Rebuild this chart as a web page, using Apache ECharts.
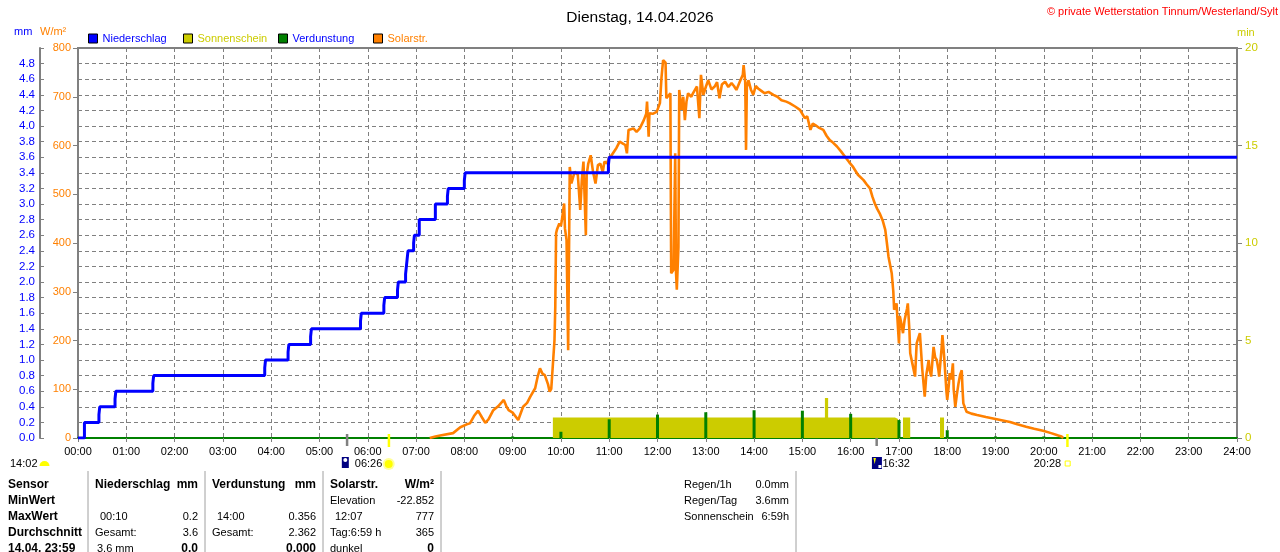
<!DOCTYPE html>
<html>
<head>
<meta charset="utf-8">
<script src="https://cdn.jsdelivr.net/npm/echarts@6/dist/echarts.min.js"></script>
<style>
html,body{margin:0;padding:0;background:#fff;}
#chart{width:1280px;height:552px;}
</style>
</head>
<body>
<div id="chart"></div>
<script>
// ---------- DATA ----------
const hourLabels = ['00:00','01:00','02:00','03:00','04:00','05:00','06:00','07:00','08:00','09:00','10:00','11:00','12:00','13:00','14:00','15:00','16:00','17:00','18:00','19:00','20:00','21:00','22:00','23:00','24:00'];

// Niederschlag (cumulative mm), time in minutes since midnight
const rainT = [0, 8, 26, 27, 46, 47, 93, 94, 232, 233, 261, 262, 289, 290, 351, 352, 380, 381, 397, 398, 407, 408, 409, 410, 417, 418, 424, 444, 459, 460, 480, 481, 659, 660, 1440];
const rainV = [0, 0.2, 0.3, 0.4, 0.5, 0.6, 0.7, 0.8, 0.9, 1.0, 1.1, 1.2, 1.3, 1.4, 1.5, 1.6, 1.7, 1.8, 1.9, 2.0, 2.1, 2.2, 2.3, 2.4, 2.5, 2.6, 2.8, 3.0, 3.1, 3.2, 3.3, 3.4, 3.5, 3.6, 3.6];

// Sonnenschein (min), step values starting at each time
const sunT = [0, 590, 928, 932, 1015, 1019, 1025, 1034, 1071, 1076, 1440];
const sunV = [0, 1.05, 2.05, 1.05, 0.97, 0, 1.05, 0, 1.05, 0, 0];

// Verdunstung (mm per hour)
const evapT = [540, 600, 660, 720, 780, 840, 900, 960, 1020, 1080, 1140, 1200];
const evapV = [0.02, 0.08, 0.24, 0.30, 0.33, 0.356, 0.35, 0.31, 0.23, 0.10, 0.02, 0.02];

// Solarstrahlung (W/m²)
const solarT = [437,444,450,466,475,483,487,492,497,502,506,510,516,522,529,532,535,540,547,553,558,562,568,571,574,577,580,584,586,588,590,592,593,594,595,598,600,601,604,605,607,609,611,613,617,621,624,626,628,631,632,634,637,640,643,646,649,652,654,657,660,663,665,669,673,677,680,682,684,690,694,698,703,706,707,709,710,714,719,723,725,727,728,730,731,733,736,737,740,742,743,744,746,747,750,752,754,756,758,762,764,769,772,774,777,780,783,787,791,794,797,800,804,808,812,815,818,823,826,827,829,830,831,833,836,839,842,845,849,853,858,864,869,874,880,884,891,897,903,906,910,913,916,921,926,930,934,938,943,948,953,958,963,969,976,980,984,987,990,993,996,1000,1003,1005,1007,1009,1011,1013,1014,1017,1019,1020,1021,1023,1025,1027,1030,1031,1033,1034,1037,1040,1042,1044,1046,1049,1052,1054,1057,1058,1060,1063,1065,1067,1069,1070,1073,1074,1076,1077,1079,1080,1082,1083,1085,1087,1088,1090,1092,1094,1096,1098,1099,1100,1104,1110,1117,1128,1137,1146,1158,1167,1178,1188,1199,1209,1218,1222,1224];
const solarV = [0,3,5,10,22,28,30,45,56,42,31,38,57,65,78,66,57,52,37,64,72,85,102,125,143,132,129,110,95,101,105,200,269,420,427,440,435,445,481,430,406,180,556,522,546,540,468,530,567,416,540,563,580,545,522,560,563,545,567,563,575,580,584,595,608,604,601,584,632,635,628,635,652,665,690,618,666,665,669,687,740,775,777,770,697,700,707,338,345,584,340,304,392,714,673,700,652,690,707,700,707,721,656,745,704,720,734,715,721,730,697,725,731,720,728,722,714,734,745,765,730,591,720,734,715,704,722,717,712,707,710,704,700,693,690,687,680,673,656,660,632,645,642,636,632,620,611,606,598,588,577,566,556,540,529,520,512,495,481,470,461,445,427,400,372,355,338,300,263,276,220,194,250,235,215,242,265,276,220,174,150,126,194,205,215,140,85,130,160,140,126,187,165,160,140,126,185,211,170,146,95,78,110,133,120,153,100,64,90,112,130,139,100,71,54,50,47,43,40,37,33,28,23,19,15,10,5,3,0];

// Sun / moon event markers on the time axis (minutes)
const eventT = [334, 386, 992, 1229];
const eventColor = ['#808080', '#ffff00', '#808080', '#ffff00'];

// Legend entries
const legendNames = ['Niederschlag', 'Sonnenschein', 'Verdunstung', 'Solarstr.'];
const legendTextColors = ['#0000ff', '#cccc00', '#0000ff', '#ff8000'];

// Table texts
const sensorCol = ['Sensor', 'MinWert', 'MaxWert', 'Durchschnitt', '14.04. 23:59'];
const rainCol = [['Niederschlag', 'mm'], ['', ''], ['00:10', '0.2'], ['Gesamt:', '3.6'], ['3.6 mm', '0.0']];
const evapCol = [['Verdunstung', 'mm'], ['', ''], ['14:00', '0.356'], ['Gesamt:', '2.362'], ['', '0.000']];
const solarCol = [['Solarstr.', 'W/m²'], ['Elevation', '-22.852'], ['12:07', '777'], ['Tag:6:59 h', '365'], ['dunkel', '0']];
const infoRows = [['Regen/1h', '0.0mm'], ['Regen/Tag', '3.6mm'], ['Sonnenschein', '6:59h']];

// ---------- CHART ----------
const zip = (a, b) => a.map((v, i) => [v, b[i]]);
const FONT = 'Liberation Sans, Arial, sans-serif';
const chart = echarts.init(document.getElementById('chart'));

const legendLeft = [88, 183, 278, 373];
const legends = legendNames.map((n, i) => ({
  left: legendLeft[i], top: 33, padding: 0,
  icon: 'rect', itemWidth: 9, itemHeight: 9, itemGap: 0,
  itemStyle: { borderColor: '#000', borderWidth: 1 },
  textStyle: { fontSize: 11, fontFamily: FONT, color: legendTextColors[i] },
  data: [n]
}));

const option = {
  animation: false,
  backgroundColor: '#ffffff',
  textStyle: { fontFamily: FONT },
  title: {
    text: 'Dienstag, 14.04.2026',
    left: 'center', top: 5,
    textStyle: { fontSize: 15.5, fontWeight: 'normal', color: '#000', fontFamily: FONT }
  },
  legend: legends,
  grid: { left: 78, right: 43, top: 48, bottom: 114, show: true, borderColor: '#808080', borderWidth: 2, backgroundColor: 'transparent' },
  xAxis: {
    type: 'value', min: 0, max: 1440, interval: 60,
    axisLine: { show: true, lineStyle: { color: '#008000', width: 2 } },
    axisTick: { show: true, length: 4, lineStyle: { color: '#808080' } },
    axisLabel: { color: '#000', fontSize: 11, margin: 8, fontFamily: FONT, showMaxLabel: true, showMinLabel: true,
      formatter: v => hourLabels[Math.round(v / 60)] },
    splitLine: { show: true, lineStyle: { color: '#808080', type: [4, 3], width: 1 } }
  },
  yAxis: [
    {
      type: 'value', min: 0, max: 800, interval: 100, position: 'left',
      axisLine: { show: false },
      axisTick: { show: true, length: 5, lineStyle: { color: '#808080' } },
      axisLabel: { color: '#ff8000', fontSize: 11, margin: 7, fontFamily: FONT },
      splitLine: { show: false }
    },
    {
      type: 'value', min: 0, max: 5, interval: 0.2, position: 'left', offset: 38,
      axisLine: { show: true, lineStyle: { color: '#808080', width: 2 } },
      axisTick: { show: true, inside: true, length: 4, lineStyle: { color: '#808080' } },
      axisLabel: { color: '#0000ff', fontSize: 11.5, margin: 5, fontFamily: FONT,
        formatter: v => (Math.abs(v - 5) < 1e-6 ? '' : v.toFixed(1)) },
      splitLine: { show: true, lineStyle: { color: '#808080', type: [4, 3], width: 1 } }
    },
    {
      type: 'value', min: 0, max: 20, interval: 5, position: 'right',
      axisLine: { show: false },
      axisTick: { show: true, length: 5, lineStyle: { color: '#808080' } },
      axisLabel: { color: '#cccc00', fontSize: 11.5, margin: 8, fontFamily: FONT },
      splitLine: { show: false }
    }
  ],
  series: [
    {
      name: 'Sonnenschein', type: 'line', yAxisIndex: 2, step: 'end', showSymbol: false, symbol: 'none',
      data: zip(sunT, sunV), z: 1,
      itemStyle: { color: '#cccc00' },
      lineStyle: { width: 0, color: '#cccc00' },
      areaStyle: { color: '#cccc00', opacity: 1 }
    },
    {
      name: 'Verdunstung', type: 'bar', yAxisIndex: 1, barWidth: 3, data: zip(evapT, evapV), z: 2,
      itemStyle: { color: '#008000' }
    },
    {
      name: 'Solarstr.', type: 'line', yAxisIndex: 0, showSymbol: false, symbol: 'none',
      data: zip(solarT, solarV), z: 3,
      itemStyle: { color: '#ff8000' },
      lineStyle: { color: '#ff8000', width: 2.6 }
    },
    {
      name: 'Niederschlag', type: 'line', yAxisIndex: 1, step: 'end', showSymbol: false, symbol: 'none',
      data: zip(rainT, rainV), z: 4,
      itemStyle: { color: '#0000ff' },
      lineStyle: { color: '#0000ff', width: 3 }
    }
  ]
};
chart.setOption(option);

// ---------- GRAPHIC DECORATION ----------
function txt(text, x, y, opts) {
  opts = opts || {};
  return {
    type: 'text', x: x, y: y, z: 100,
    style: {
      text: text,
      fill: opts.color || '#000',
      font: (opts.bold ? 'bold ' : '') + (opts.size || 11) + 'px ' + FONT,
      textAlign: opts.align || 'left', align: opts.align || 'left',
      textVerticalAlign: 'middle', verticalAlign: 'middle'
    }
  };
}
const g = [];
// axis unit names
g.push(txt('mm', 14, 32, { color: '#0000ff' }));
g.push(txt('W/m²', 40, 32, { color: '#ff8000' }));
g.push(txt('min', 1237, 33, { color: '#cccc00' }));
g.push(txt('© private Wetterstation Tinnum/Westerland/Sylt', 1278, 12, { color: '#ff0000', align: 'right' }));

// event markers
const yAxisPx = chart.convertToPixel({ yAxisIndex: 0 }, 0);
const evX = eventT.map(t => chart.convertToPixel({ xAxisIndex: 0 }, t));
evX.forEach((x, i) => {
  const top = (i === 2) ? yAxisPx : yAxisPx - 4;
  g.push({ type: 'rect', z: 90, shape: { x: x - 1, y: top, width: 2.5, height: yAxisPx + 8 - top + (i % 2 ? 1 : 0) }, style: { fill: eventColor[i] } });
});
// icons & texts below axis
const iconY = yAxisPx + 25;
// 14:02 half sun
g.push(txt('14:02', 10, iconY + 1));
g.push({ type: 'sector', z: 100, shape: { cx: 44.5, cy: iconY + 3, r0: 0, r: 5, startAngle: Math.PI, endAngle: 2 * Math.PI }, style: { fill: '#ffff00' } });
// moon icon at first gray marker
g.push({ type: 'rect', z: 100, shape: { x: evX[0] - 5, y: iconY - 6, width: 7, height: 11 }, style: { fill: '#000080' } });
g.push({ type: 'circle', z: 101, shape: { cx: evX[0] - 1.5, cy: iconY - 3, r: 2 }, style: { fill: '#ffffff' } });
g.push(txt('06:26', evX[0] + 8, iconY + 1));
// sun icon at sunrise
g.push({ type: 'circle', z: 100, shape: { cx: evX[1], cy: iconY + 1, r: 6 }, style: { fill: '#ffff99' } });
g.push({ type: 'circle', z: 101, shape: { cx: evX[1], cy: iconY + 1, r: 4 }, style: { fill: '#ffff00' } });
// moon icon 16:32
g.push({ type: 'rect', z: 100, shape: { x: evX[2] - 4.5, y: iconY - 6, width: 10, height: 12 }, style: { fill: '#000080' } });
g.push({ type: 'polygon', z: 101, shape: { points: [[evX[2] - 3, iconY - 5], [evX[2] - 0.5, iconY - 5], [evX[2] - 1.7, iconY + 1]] }, style: { fill: '#ffff00' } });
g.push({ type: 'rect', z: 101, shape: { x: evX[2] + 2, y: iconY + 2, width: 3, height: 3 }, style: { fill: '#ffffff' } });
g.push(txt('16:32', evX[2] + 6, iconY + 1));
// sunset
g.push(txt('20:28', evX[3] - 6, iconY + 1, { align: 'right' }));
g.push({ type: 'rect', z: 100, shape: { x: evX[3] - 2, y: iconY - 2, width: 5, height: 5 }, style: { fill: 'none', stroke: '#ffff00', lineWidth: 1 } });

// table
const rowY = [485, 501, 517, 533, 549];
const sepX = [88, 205, 323, 441, 796];
sepX.forEach(x => g.push({ type: 'line', z: 90, shape: { x1: x, y1: 471, x2: x, y2: 552 }, style: { stroke: '#a0a0a0', lineWidth: 1 } }));
sensorCol.forEach((s, i) => g.push(txt(s, 8, rowY[i], { bold: true, size: 12 })));
const cols = [{ col: rainCol, lx: 95, rx: 198 }, { col: evapCol, lx: 212, rx: 316 }, { col: solarCol, lx: 330, rx: 434 }];
cols.forEach(c => {
  c.col.forEach((pair, i) => {
    const head = i === 0;
    const last = i === 4;
    let lx = c.lx;
    if (i === 2) lx += 5;
    if (i === 4 && c.col === rainCol) lx += 2;
    if (pair[0]) g.push(txt(pair[0], lx, rowY[i], { bold: head, size: head ? 12 : 11 }));
    if (pair[1]) g.push(txt(pair[1], c.rx, rowY[i], { bold: head || last, size: (head || last) ? 12 : 11, align: 'right' }));
  });
});
infoRows.forEach((r, i) => {
  g.push(txt(r[0], 684, rowY[i]));
  g.push(txt(r[1], 789, rowY[i], { align: 'right' }));
});

chart.setOption({ graphic: { elements: g } });
</script>
</body>
</html>
